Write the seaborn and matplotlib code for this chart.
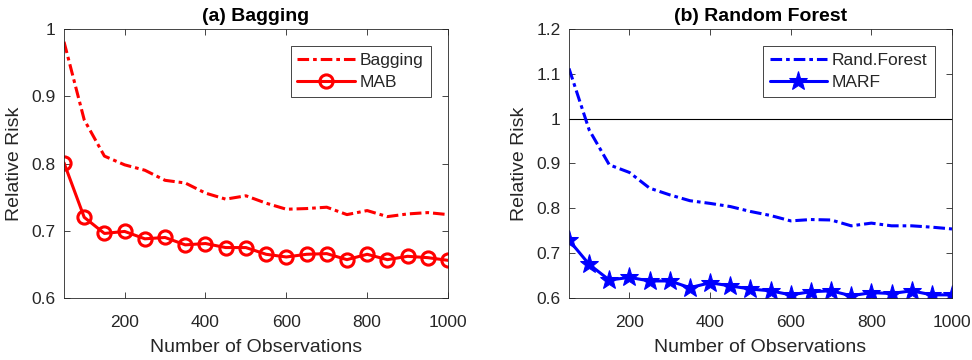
import numpy as np
import pandas as pd
import matplotlib
matplotlib.use('Agg')
import matplotlib.pyplot as plt
from matplotlib.ticker import FuncFormatter
import seaborn as sns

# data
n_obs = list(range(50, 1001, 50))
bagging = [0.981, 0.865, 0.811, 0.798, 0.790, 0.775, 0.771, 0.756, 0.747, 0.752,
           0.741, 0.732, 0.733, 0.735, 0.724, 0.730, 0.721, 0.725, 0.727, 0.724]
mab = [0.801, 0.720, 0.696, 0.699, 0.688, 0.690, 0.679, 0.681, 0.675, 0.675,
       0.665, 0.661, 0.665, 0.666, 0.657, 0.665, 0.657, 0.662, 0.660, 0.656]
rand_forest = [1.112, 0.975, 0.897, 0.880, 0.845, 0.830, 0.817, 0.811, 0.804, 0.793,
               0.784, 0.772, 0.775, 0.774, 0.761, 0.767, 0.761, 0.761, 0.758, 0.754]
marf = [0.729, 0.675, 0.640, 0.646, 0.638, 0.638, 0.623, 0.634, 0.627, 0.620,
        0.616, 0.607, 0.614, 0.616, 0.605, 0.612, 0.610, 0.616, 0.607, 0.607]

sns.set_style('ticks')
plt.rcParams['font.family'] = ['Liberation Sans', 'DejaVu Sans']
plt.rcParams['text.color'] = '#262626'

fig = plt.figure(figsize=(9.72, 3.6), dpi=100)
ax1 = fig.add_axes([64 / 972, 62 / 360, 384 / 972, 269 / 360])
ax2 = fig.add_axes([569 / 972, 62 / 360, 383 / 972, 269 / 360])

df = pd.DataFrame({'n': n_obs, 'Bagging': bagging, 'MAB': mab,
                   'Rand.Forest': rand_forest, 'MARF': marf})

dashdot = (0, (3.8, 1.3, 1.2, 1.3))

# (a) Bagging
sns.lineplot(data=df, x='n', y='Bagging', ax=ax1, color='red', lw=2.2,
             linestyle=dashdot, label='Bagging')
sns.lineplot(data=df, x='n', y='MAB', ax=ax1, color='red', lw=2.2,
             marker='o', markersize=9.5, markerfacecolor='none',
             markeredgecolor='red', markeredgewidth=2.2, label='MAB')
ax1.set_ylim(0.6, 1.0)
ax1.set_yticks([0.6, 0.7, 0.8, 0.9, 1.0])
ax1.set_title('(a) Bagging', fontsize=14, fontweight='bold', color='black', pad=6)

# (b) Random Forest
ax2.axhline(1.0, color='black', lw=0.8)
sns.lineplot(data=df, x='n', y='Rand.Forest', ax=ax2, color='blue', lw=2.2,
             linestyle=dashdot, label='Rand.Forest')
sns.lineplot(data=df, x='n', y='MARF', ax=ax2, color='blue', lw=2.2,
             marker='*', markersize=14, markeredgecolor='blue', label='MARF')
ax2.set_ylim(0.6, 1.2)
ax2.set_yticks([0.6, 0.7, 0.8, 0.9, 1.0, 1.1, 1.2])
ax2.set_title('(b) Random Forest', fontsize=14, fontweight='bold', color='black', pad=6)

for ax in (ax1, ax2):
    ax.set_xlim(50, 1000)
    ax.set_xticks([200, 400, 600, 800, 1000])
    ax.yaxis.set_major_formatter(FuncFormatter(lambda v, p: '%g' % round(v, 2)))
    ax.set_xlabel('Number of Observations', fontsize=14, color='#262626', labelpad=7)
    ax.set_ylabel('Relative Risk', fontsize=14, color='#262626', labelpad=6)
    ax.tick_params(direction='in', top=True, right=True, labelsize=12.5,
                   colors='#262626', length=4, width=0.6)
    ax.tick_params(axis='x', pad=12)
    ax.tick_params(axis='y', pad=6)
    for s in ax.spines.values():
        s.set_visible(True)
        s.set_color('#262626')
        s.set_linewidth(0.6)
    leg = ax.legend(loc='upper right', fontsize=12.5, frameon=True, fancybox=False,
                    edgecolor='#262626', framealpha=1, handlelength=3.3,
                    handletextpad=0.3, borderaxespad=1.0, labelspacing=0.35,
                    borderpad=0.4)
    leg.get_frame().set_linewidth(0.6)

fig.savefig('out.png', dpi=100)
